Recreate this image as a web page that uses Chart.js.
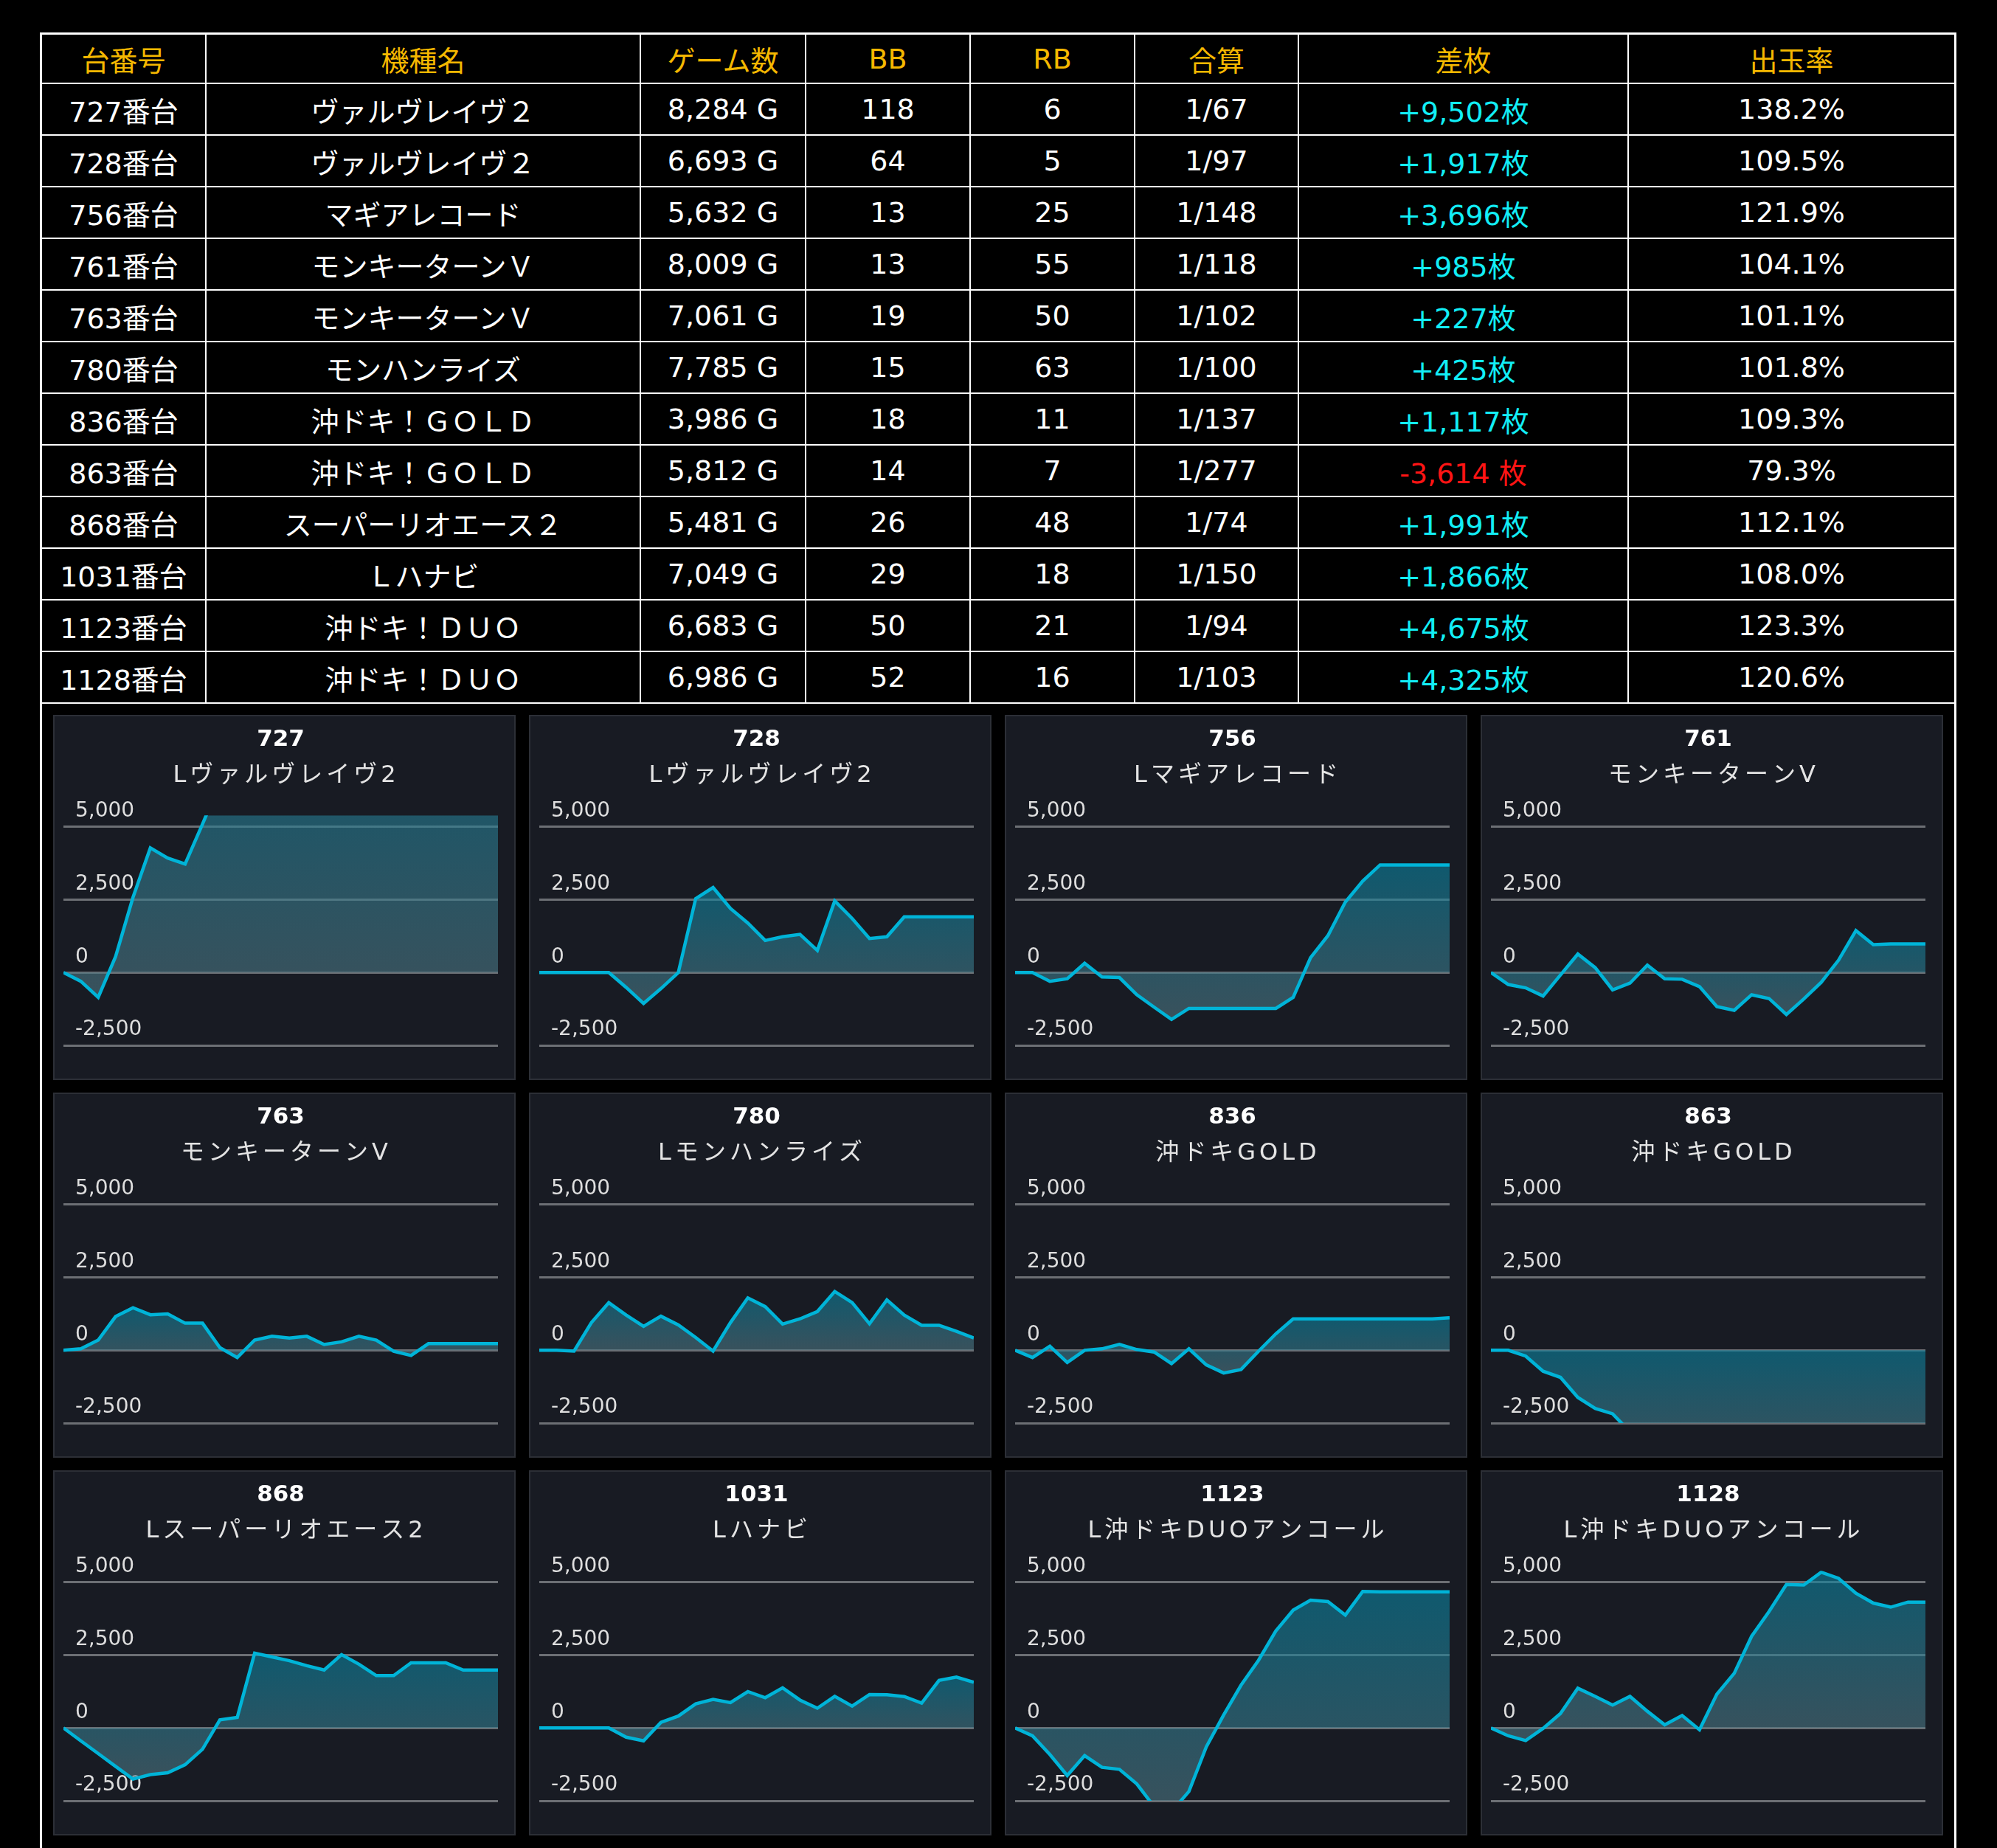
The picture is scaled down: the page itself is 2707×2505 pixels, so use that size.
<!DOCTYPE html>
<html>
<head>
<meta charset="utf-8">
<script src="https://cdn.jsdelivr.net/npm/chart.js@4.4.1/dist/chart.umd.min.js"></script>
<style>
html, body { margin: 0; background: #000; }
body { width: 2707px; height: 2505px; overflow: hidden; position: relative; }
#frame {
    position: absolute; left: 54px; top: 44px; width: 2598px; height: 2470px;
    box-sizing: border-box; border: 3px solid #fff; border-bottom: none;
}
table { border-collapse: collapse; table-layout: fixed; width: 2592px; }
th, td {
    border: 2px solid #fff; padding: 0; text-align: center; white-space: nowrap;
    font: 38px "DejaVu Sans", "Noto Sans CJK JP", sans-serif; color: #fff;
}
th { color: #f5b800; font-weight: normal; border-top: none; }
th:first-child, td:first-child { border-left: none; }
th:last-child, td:last-child { border-right: none; }
tr.head { height: 66px; }
tr.row { height: 70px; }
.plus { color: #12eef6; }
.minus { color: #ff1414; }
#panels {
    display: grid; grid-template-columns: repeat(4, 627px);
    column-gap: 18px; row-gap: 17px; padding: 15px 0 0 15px;
}
.panel { width: 627px; height: 495px; box-sizing: border-box; border: 2px solid #2c2f36; background: #181b23; }
.panel canvas { display: block; }
</style>
</head>
<body>
<div id="frame">
    <table id="tbl">
        <colgroup>
            <col style="width:222px"><col style="width:589px"><col style="width:224px"><col style="width:223px">
            <col style="width:223px"><col style="width:222px"><col style="width:447px"><col style="width:442px">
        </colgroup>
        <thead></thead>
        <tbody></tbody>
    </table>
    <div id="panels"></div>
</div>
<script>
const headers = ['台番号', '機種名', 'ゲーム数', 'BB', 'RB', '合算', '差枚', '出玉率'];
const units = ['727', '728', '756', '761', '763', '780', '836', '863', '868', '1031', '1123', '1128'];
const tableNames = ['ヴァルヴレイヴ２', 'ヴァルヴレイヴ２', 'マギアレコード', 'モンキーターンＶ', 'モンキーターンＶ', 'モンハンライズ',
    '沖ドキ！ＧＯＬＤ', '沖ドキ！ＧＯＬＤ', 'スーパーリオエース２', 'Ｌハナビ', '沖ドキ！ＤＵＯ', '沖ドキ！ＤＵＯ'];
const chartNames = ['Lヴァルヴレイヴ2', 'Lヴァルヴレイヴ2', 'Lマギアレコード', 'モンキーターンV', 'モンキーターンV', 'Lモンハンライズ',
    '沖ドキGOLD', '沖ドキGOLD', 'Lスーパーリオエース2', 'Lハナビ', 'L沖ドキDUOアンコール', 'L沖ドキDUOアンコール'];
const games = [8284, 6693, 5632, 8009, 7061, 7785, 3986, 5812, 5481, 7049, 6683, 6986];
const bb = [118, 64, 13, 13, 19, 15, 18, 14, 26, 29, 50, 52];
const rb = [6, 5, 25, 55, 50, 63, 11, 7, 48, 18, 21, 16];
const combined = ['1/67', '1/97', '1/148', '1/118', '1/102', '1/100', '1/137', '1/277', '1/74', '1/150', '1/94', '1/103'];
const diffs = [9502, 1917, 3696, 985, 227, 425, 1117, -3614, 1991, 1866, 4675, 4325];
const rates = ['138.2%', '109.5%', '121.9%', '104.1%', '101.1%', '101.8%', '109.3%', '79.3%', '112.1%', '108.0%', '123.3%', '120.6%'];

// slump graphs (26 samples each)
const steps = [1, 2, 3, 4, 5, 6, 7, 8, 9, 10, 11, 12, 13, 14, 15, 16, 17, 18, 19, 20, 21, 22, 23, 24, 25, 26];
const s727 = [0, -300, -850, 550, 2580, 4280, 3930, 3730, 5100, 6500, 7300, 7900, 8300, 8700, 9000, 9200, 9350, 9450, 9502, 9502, 9502, 9502, 9502, 9502, 9502, 9502];
const s728 = [0, 0, 0, 0, 0, -510, -1060, -550, 0, 2540, 2920, 2200, 1700, 1100, 1230, 1310, 760, 2460, 1860, 1170, 1230, 1917, 1917, 1917, 1917, 1917];
const s756 = [0, 0, -300, -210, 320, -150, -170, -760, -1190, -1610, -1230, -1230, -1230, -1230, -1230, -1230, -850, 510, 1270, 2420, 3140, 3696, 3696, 3696, 3696, 3696];
const s761 = [0, -410, -525, -805, -85, 636, 170, -593, -364, 254, -212, -229, -483, -1169, -1297, -763, -890, -1441, -907, -339, 424, 1441, 960, 985, 985, 985];
const s763 = [0, 50, 350, 1160, 1460, 1220, 1250, 930, 930, 90, -250, 350, 480, 420, 480, 200, 290, 480, 350, -35, -180, 227, 227, 227, 227, 227];
const s780 = [0, 0, -30, 950, 1635, 1210, 820, 1170, 870, 440, -30, 950, 1800, 1500, 900, 1080, 1330, 2020, 1640, 910, 1730, 1210, 860, 860, 650, 425];
const s836 = [0, -250, 140, -420, 0, 50, 200, 25, -60, -460, 50, -500, -780, -660, -35, 565, 1080, 1080, 1080, 1080, 1080, 1080, 1080, 1080, 1080, 1117];
const s863 = [0, 0, -200, -720, -930, -1620, -2000, -2180, -2800, -3050, -3250, -3400, -3500, -3560, -3614, -3614, -3614, -3614, -3614, -3614, -3614, -3614, -3614, -3614, -3614, -3614];
const s868 = [0, -440, -880, -1320, -1755, -1600, -1540, -1260, -730, 280, 365, 2570, 2440, 2310, 2140, 1990, 2520, 2190, 1800, 1800, 2240, 2240, 2240, 1991, 1991, 1991];
const s1031 = [0, 0, 0, 0, 0, -315, -440, 195, 410, 830, 980, 870, 1250, 1040, 1380, 960, 680, 1090, 750, 1150, 1140, 1080, 855, 1635, 1750, 1570];
const s1123 = [0, -270, -910, -1630, -950, -1350, -1420, -1920, -2700, -2870, -2180, -650, 450, 1470, 2320, 3330, 4050, 4390, 4340, 3880, 4690, 4675, 4675, 4675, 4675, 4675];
const s1128 = [0, -270, -430, -15, 495, 1365, 1085, 790, 1085, 575, 110, 430, -60, 1160, 1880, 3150, 4000, 4930, 4910, 5350, 5140, 4630, 4290, 4150, 4325, 4325];
const series = [s727, s728, s756, s761, s763, s780, s836, s863, s868, s1031, s1123, s1128];
const yTicks = [-2500, 0, 2500, 5000];

// ---- table ----
const thead = document.querySelector('#tbl thead');
thead.innerHTML = '<tr class="head">' + headers.map(h => `<th>${h}</th>`).join('') + '</tr>';
const tbody = document.querySelector('#tbl tbody');
units.forEach((u, i) => {
    const d = diffs[i];
    const diffText = d >= 0 ? `+${d.toLocaleString('en-US')}枚` : `-${Math.abs(d).toLocaleString('en-US')} 枚`;
    tbody.insertAdjacentHTML('beforeend',
        `<tr class="row"><td>${u}番台</td><td>${tableNames[i]}</td><td>${games[i].toLocaleString('en-US')} G</td>` +
        `<td>${bb[i]}</td><td>${rb[i]}</td><td>${combined[i]}</td>` +
        `<td class="${d >= 0 ? 'plus' : 'minus'}">${diffText}</td><td>${rates[i]}</td></tr>`);
});

// ---- graphs ----
function fillGradient(ctx) {
    const chart = ctx.chart;
    const ys = chart.scales.y;
    if (!chart.chartArea || !ys) return 'rgba(30,120,145,0.6)';
    const vals = ctx.dataset.data;
    const top = ys.getPixelForValue(Math.max(0, ...vals));
    const bot = ys.getPixelForValue(Math.min(0, ...vals));
    const g = chart.ctx.createLinearGradient(0, top, 0, bot);
    g.addColorStop(0, 'rgba(11,132,160,0.6)');
    g.addColorStop(1, 'rgba(81,119,130,0.6)');
    return g;
}

// machine name under the unit number, drawn with wide letter spacing
const spacedSubtitle = {
    id: 'spacedSubtitle',
    afterDraw(chart, args, opts) {
        const c = chart.ctx;
        c.save();
        c.font = `${opts.size}px ${opts.family}`;
        c.letterSpacing = opts.spacing + 'px';
        c.fillStyle = opts.color;
        c.textAlign = 'center';
        c.textBaseline = 'middle';
        c.fillText(opts.text, chart.width / 2 + opts.spacing / 2, opts.y);
        c.restore();
    }
};

const panels = document.getElementById('panels');
units.forEach((u, i) => {
    const box = document.createElement('div');
    box.className = 'panel';
    const cv = document.createElement('canvas');
    cv.width = 623;
    cv.height = 491;
    box.appendChild(cv);
    panels.appendChild(box);

    new Chart(cv, {
        type: 'line',
        plugins: [spacedSubtitle],
        data: {
            labels: steps,
            datasets: [{
                data: series[i],
                borderColor: '#00b4d8',
                borderWidth: 4.5,
                pointRadius: 0,
                tension: 0,
                fill: 'origin',
                backgroundColor: fillGradient,
                clip: 0
            }]
        },
        options: {
            responsive: false,
            animation: false,
            devicePixelRatio: 1,
            locale: 'en-US',
            layout: { padding: { left: 12, right: 22, top: 0, bottom: 45 } },
            plugins: {
                legend: { display: false },
                tooltip: { enabled: false },
                title: {
                    display: true,
                    text: u,
                    color: '#ffffff',
                    font: { family: '"DejaVu Sans", "Noto Sans CJK JP"', size: 31, weight: 'bold', lineHeight: 1.2 },
                    padding: { top: 13, bottom: 84 }
                },
                spacedSubtitle: {
                    text: chartNames[i],
                    y: 81,
                    size: 32,
                    spacing: 5,
                    color: '#e4e4e4',
                    family: '"DejaVu Sans", "Noto Sans CJK JP"'
                }
            },
            scales: {
                x: { display: false },
                y: {
                    min: -2500,
                    max: 5400,
                    afterBuildTicks: s => { s.ticks = yTicks.map(v => ({ value: v })); },
                    afterFit: s => { s.width = 0; },
                    border: { display: false },
                    grid: { color: '#6c6f74', lineWidth: 3, drawTicks: false },
                    ticks: {
                        mirror: true,
                        padding: 16,
                        labelOffset: -21,
                        color: '#dedede',
                        font: { family: '"DejaVu Sans"', size: 28 }
                    }
                }
            }
        }
    });
});
</script>
</body>
</html>
